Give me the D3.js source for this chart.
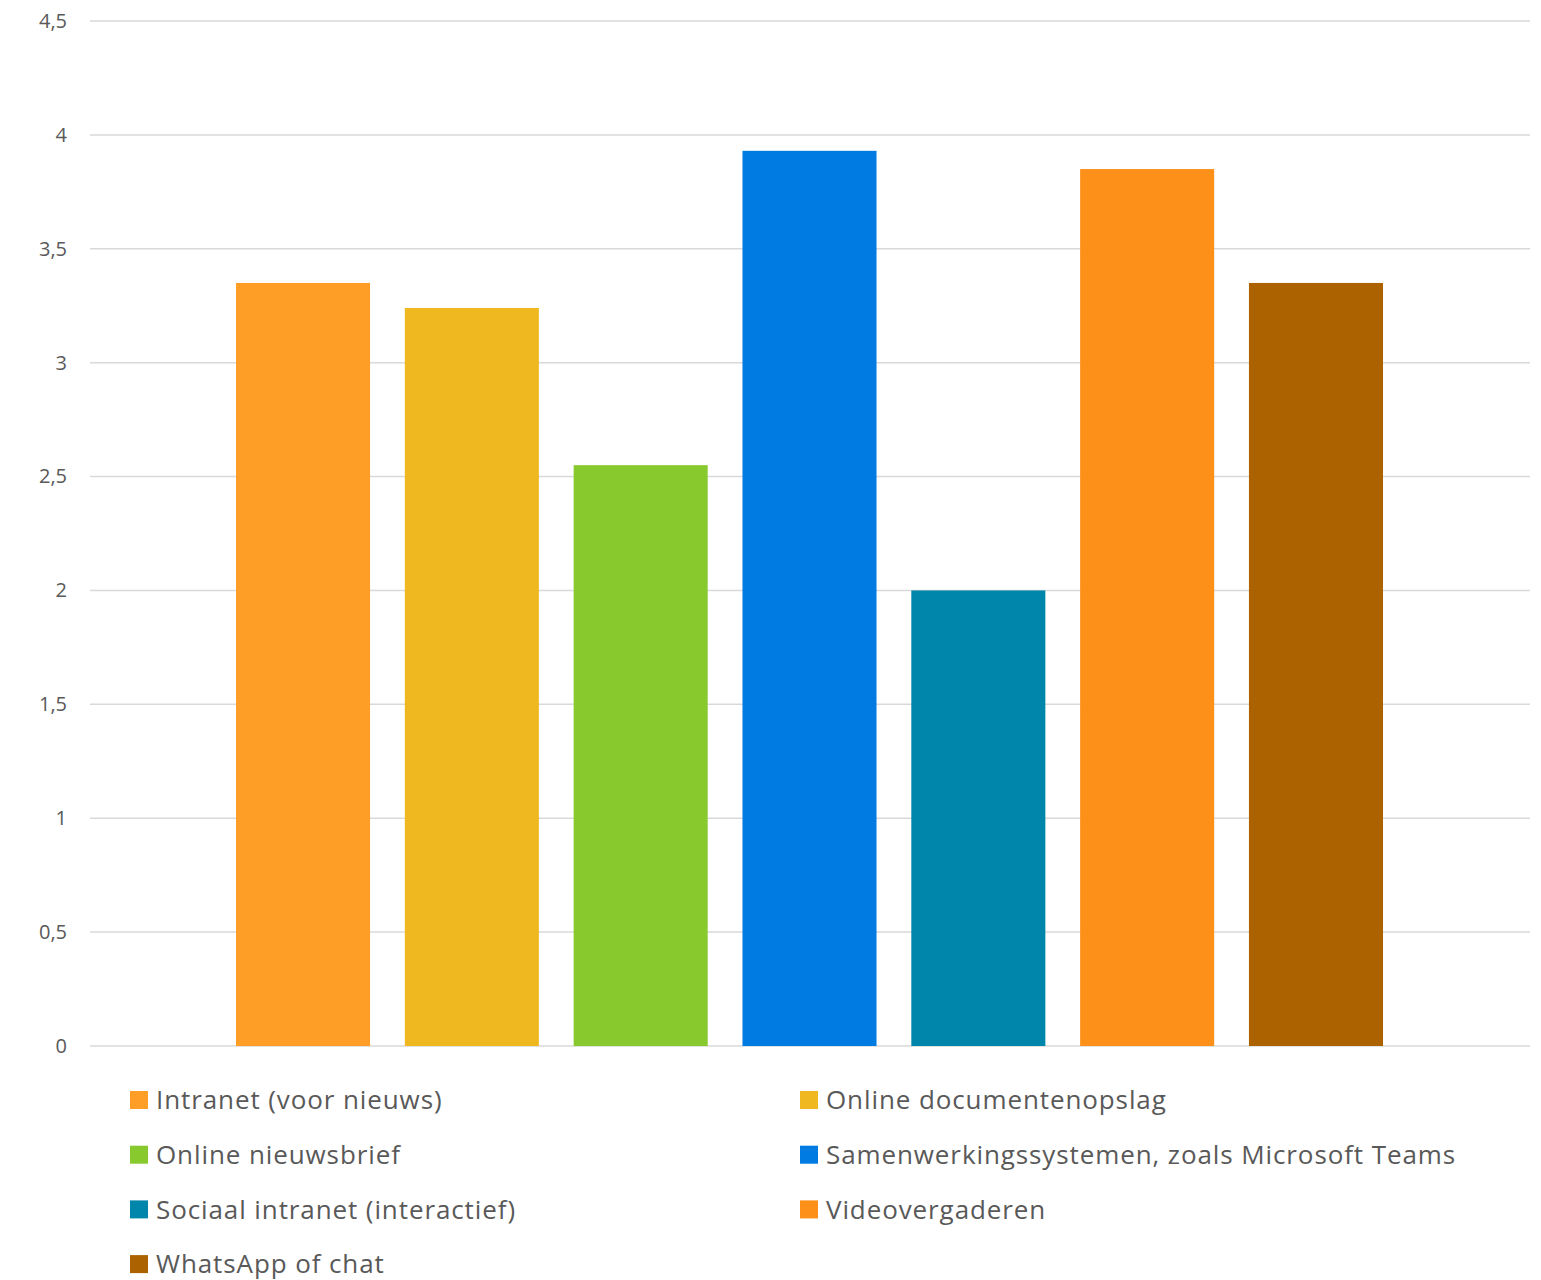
<!DOCTYPE html>
<html>
<head>
<meta charset="utf-8">
<script src="https://cdn.jsdelivr.net/npm/d3@7/dist/d3.min.js"></script>
<style>
  html, body { margin: 0; padding: 0; background: #fff; }
  svg { display: block; }
</style>
</head>
<body>
<div id="chart"></div>
<script>
const categories = [
  "Intranet (voor nieuws)",
  "Online documentenopslag",
  "Online nieuwsbrief",
  "Samenwerkingssystemen, zoals Microsoft Teams",
  "Sociaal intranet (interactief)",
  "Videovergaderen",
  "WhatsApp of chat"
];
const values = [3.35, 3.24, 2.55, 3.93, 2.0, 3.85, 3.35];
const colors = ["#FF9E27", "#F0B820", "#88C92E", "#007BE2", "#0086AB", "#FD9019", "#AD6200"];
const tickValues = [0, 0.5, 1, 1.5, 2, 2.5, 3, 3.5, 4, 4.5];
const tickLabels = ["0", "0,5", "1", "1,5", "2", "2,5", "3", "3,5", "4", "4,5"];

const W = 1541, H = 1280;
const plot = { left: 90, right: 1530, top: 21, bottom: 1046 };
const font = "'Open Sans', 'Noto Sans', sans-serif";

const svg = d3.select("#chart").append("svg").attr("width", W).attr("height", H);

const y = d3.scaleLinear().domain([0, 4.5]).range([plot.bottom, plot.top]);
const x = d3.scaleBand().domain(categories).range([236, 1383]).paddingInner(0.206).paddingOuter(0);

// gridlines
svg.append("g").selectAll("line").data(tickValues).join("line")
  .attr("x1", plot.left).attr("x2", plot.right)
  .attr("y1", d => y(d)).attr("y2", d => y(d))
  .attr("stroke", "#d9d9d9").attr("stroke-width", 1.5);

// y-axis labels
const yAxis = d3.axisLeft(y).tickValues(tickValues).tickSize(0).tickPadding(0)
  .tickFormat((d, i) => tickLabels[i]);
const gy = svg.append("g").attr("transform", "translate(67,0)").call(yAxis);
gy.select(".domain").remove();
gy.selectAll("text").attr("font-family", font).attr("font-size", 20).attr("fill", "#595959");

// bars
svg.append("g").selectAll("rect").data(categories).join("rect")
  .attr("x", d => x(d))
  .attr("width", x.bandwidth())
  .attr("y", (d, i) => y(values[i]))
  .attr("height", (d, i) => y(0) - y(values[i]))
  .attr("fill", (d, i) => colors[i]);

// legend
const legCols = [130, 800];
const legRow0 = 1100, legStep = 54.7;
const leg = svg.append("g").selectAll("g").data(categories).join("g")
  .attr("transform", (d, i) => `translate(${legCols[i % 2]},${legRow0 + Math.floor(i / 2) * legStep})`);
leg.append("rect").attr("x", 0).attr("y", -9).attr("width", 18).attr("height", 18)
  .attr("fill", (d, i) => colors[i]);
leg.append("text").attr("x", 26).attr("y", 0).attr("dy", "0.35em")
  .attr("font-family", font).attr("font-size", 26).attr("fill", "#595959")
  .attr("letter-spacing", 0.9)
  .text(d => d);
</script>
</body>
</html>
